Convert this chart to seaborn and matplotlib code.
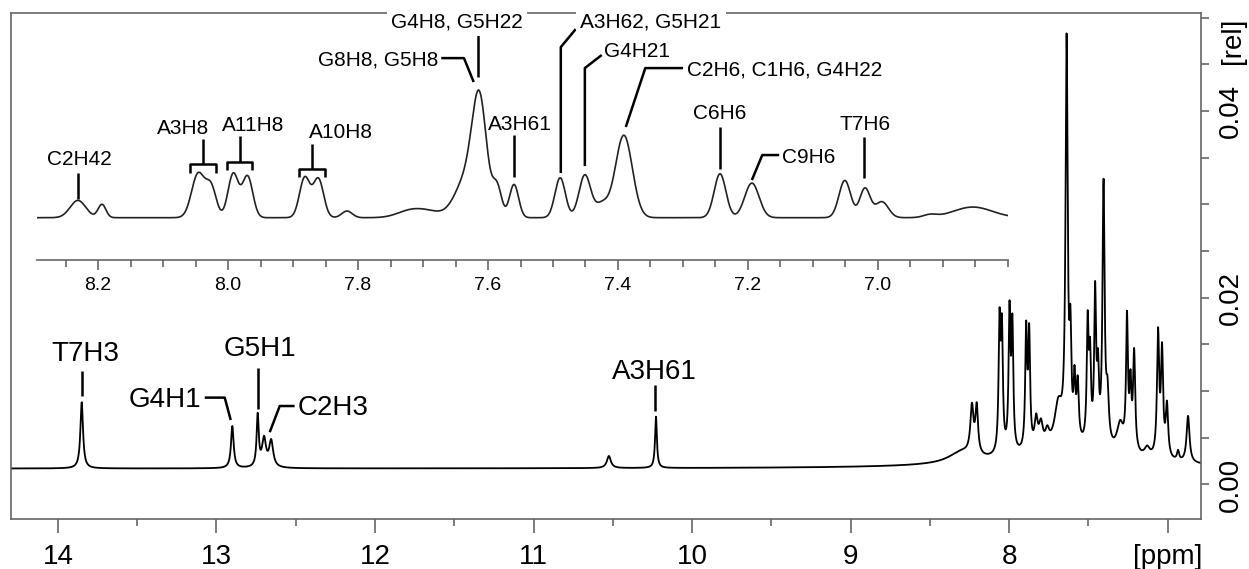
import numpy as np
import pandas as pd
import matplotlib
matplotlib.use("Agg")
import matplotlib.pyplot as plt
import seaborn as sns
from matplotlib.ticker import MultipleLocator, FixedLocator

# --- peak tables ---

# full spectrum: Lorentzian lines (ppm, height [rel], half width [ppm])
main_ppm = [13.85, 12.90, 12.74, 12.70, 12.655, 10.525, 10.228,
            7.60, 8.30, 8.235, 8.205, 8.061, 8.046, 7.998, 7.980, 7.893, 7.874,
            7.830, 7.800, 7.760, 7.690, 7.638, 7.614, 7.588, 7.568, 7.505, 7.490,
            7.458, 7.440, 7.405, 7.380, 7.300, 7.257, 7.235, 7.212, 7.130,
            7.061, 7.036, 7.005, 6.935, 6.872]
main_height = [0.0071, 0.0045, 0.0055, 0.0030, 0.0028, 0.0013, 0.0055,
               0.0018, 0.0012, 0.0050, 0.0050, 0.0135, 0.0125, 0.0145, 0.0130, 0.0125, 0.0120,
               0.0030, 0.0025, 0.0015, 0.0045, 0.0425, 0.0100, 0.0060, 0.0060, 0.0125, 0.0085,
               0.0158, 0.0070, 0.0278, 0.0050, 0.0030, 0.0138, 0.0065, 0.0105, 0.0010,
               0.0130, 0.0110, 0.0055, 0.0010, 0.0050]
main_width = [0.010, 0.010, 0.008, 0.015, 0.015, 0.015, 0.007,
              0.45, 0.100, 0.012, 0.010, 0.007, 0.007, 0.007, 0.007, 0.007, 0.007,
              0.012, 0.015, 0.015, 0.030, 0.008, 0.007, 0.007, 0.008, 0.007, 0.007,
              0.007, 0.007, 0.008, 0.010, 0.025, 0.007, 0.007, 0.008, 0.020,
              0.008, 0.008, 0.009, 0.008, 0.011]
main_baseline = 0.0017

# inset (8.3-6.8 ppm): Gaussian lines, arbitrary units (tallest = 1)
inset_ppm = [8.231, 8.194, 8.046, 8.026, 7.992, 7.970, 7.882, 7.861, 7.817,
             7.720, 7.690, 7.632, 7.613, 7.586, 7.560, 7.489, 7.451, 7.425,
             7.391, 7.243, 7.194, 7.051, 7.020, 6.994, 6.920, 6.854]
inset_height = [0.13, 0.10, 0.33, 0.22, 0.33, 0.31, 0.30, 0.29, 0.05,
                0.05, 0.04, 0.30, 0.78, 0.22, 0.25, 0.30, 0.32, 0.10,
                0.62, 0.33, 0.26, 0.28, 0.22, 0.12, 0.02, 0.08]
inset_sigma = [0.012, 0.006, 0.010, 0.008, 0.008, 0.008, 0.008, 0.008, 0.008,
               0.020, 0.020, 0.018, 0.011, 0.007, 0.007, 0.008, 0.009, 0.010,
               0.013, 0.009, 0.011, 0.009, 0.008, 0.010, 0.010, 0.030]
inset_baseline = -0.02

main_xlim = (14.296, 6.79)
inset_xlim = (8.294, 6.80)

# --- spectra ---
x_main = np.linspace(main_xlim[0], main_xlim[1], 9000)
y_main = np.full_like(x_main, main_baseline)
for c, h, w in zip(main_ppm, main_height, main_width):
    y_main += h * w**2 / ((x_main - c) ** 2 + w**2)

x_ins = np.linspace(inset_xlim[0], inset_xlim[1], 3000)
y_ins = np.full_like(x_ins, inset_baseline)
for c, h, s in zip(inset_ppm, inset_height, inset_sigma):
    y_ins += h * np.exp(-((x_ins - c) ** 2) / (2 * s**2))

df_main = pd.DataFrame({"ppm": x_main, "rel": y_main})
df_ins = pd.DataFrame({"ppm": x_ins, "rel": y_ins})

sns.set_style("ticks")
plt.rcParams["font.family"] = ["Liberation Sans", "DejaVu Sans"]
plt.rcParams["text.color"] = "black"
plt.rcParams["xtick.labelcolor"] = "black"
plt.rcParams["ytick.labelcolor"] = "black"

fig = plt.figure(figsize=(12.49, 5.69), dpi=100)
ax = fig.add_axes([0.0088, 0.0879, 0.9528, 0.8893])

sns.lineplot(data=df_main, x="ppm", y="rel", ax=ax, color="black", lw=1.3,
             sort=False, estimator=None)
ax.set_xlim(*main_xlim)
ax.set_ylim(-0.0037, 0.0505)
ax.set_xlabel("")
ax.set_ylabel("")
for s in ax.spines.values():
    s.set_color("#666666")
    s.set_linewidth(1.2)

ax.xaxis.set_major_locator(FixedLocator([14, 13, 12, 11, 10, 9, 8, 7]))
ax.set_xticklabels(["14", "13", "12", "11", "10", "9", "8", "[ppm]"], fontsize=20)
ax.xaxis.set_minor_locator(MultipleLocator(0.5))
ax.tick_params(axis="x", which="major", length=10, width=1.2, color="#666666", pad=8)
ax.tick_params(axis="x", which="minor", length=5, width=1.2, color="#666666")

ax.yaxis.tick_right()
ax.set_yticks([0.0, 0.02, 0.04])
ax.set_yticklabels(["0.00", "0.02", "0.04"], fontsize=20, rotation=90, va="center")
ax.yaxis.set_minor_locator(MultipleLocator(0.005))
ax.tick_params(axis="y", which="both", length=6, width=1.2, color="#666666", pad=6)
ax.text(1.027, 0.0475, "[rel]", transform=ax.get_yaxis_transform(), rotation=90,
        fontsize=20, ha="center", va="center")


def leader(a, xs, ys):
    a.plot(xs, ys, color="black", lw=1.8, solid_capstyle="butt", clip_on=False)


# main annotations
ax.text(13.83, 0.0140, "T7H3", fontsize=20, ha="center", va="center")
leader(ax, [13.849, 13.849], [0.0122, 0.0095])
ax.text(13.093, 0.0090, "G4H1", fontsize=20, ha="right", va="center")
leader(ax, [13.074, 12.948, 12.91], [0.0093, 0.0093, 0.0069])
ax.text(12.727, 0.01456, "G5H1", fontsize=20, ha="center", va="center")
leader(ax, [12.74, 12.74], [0.0125, 0.0081])
ax.text(12.488, 0.0082, "C2H3", fontsize=20, ha="left", va="center")
leader(ax, [12.507, 12.601, 12.664], [0.0084, 0.0084, 0.0056])
ax.text(10.238, 0.0120, "A3H61", fontsize=20, ha="center", va="center")
leader(ax, [10.232, 10.232], [0.0106, 0.0079])

# --- inset ---
ins = fig.add_axes([0.0296, 0.5431, 0.7774, 0.434])
ins.patch.set_visible(False)
sns.lineplot(data=df_ins, x="ppm", y="rel", ax=ins, color="#222222", lw=1.2,
             sort=False, estimator=None)
ins.set_xlim(*inset_xlim)
ins.set_ylim(-0.338, 1.519)
ins.set_xlabel("")
ins.set_ylabel("")
for side in ["left", "right", "top"]:
    ins.spines[side].set_visible(False)
ins.spines["bottom"].set_color("#666666")
ins.spines["bottom"].set_linewidth(1.2)
ins.set_yticks([])
ins.xaxis.set_major_locator(FixedLocator([8.2, 8.0, 7.8, 7.6, 7.4, 7.2, 7.0]))
ins.set_xticklabels(["8.2", "8.0", "7.8", "7.6", "7.4", "7.2", "7.0"], fontsize=14)
ins.xaxis.set_minor_locator(MultipleLocator(0.05))
ins.tick_params(axis="x", which="major", length=7, width=1.2, color="#666666", pad=5)
ins.tick_params(axis="x", which="minor", length=5, width=1.2, color="#666666")

fs = 15
white = dict(facecolor="white", edgecolor="none", pad=3)

ins.text(8.228, 0.421, "C2H42", fontsize=fs, ha="center", va="center")
leader(ins, [8.231, 8.231], [0.316, 0.12])

for lab, tx, ty, xc, xl, xr, ytop, ybr, yend in [
    ("A3H8", 8.069, 0.654, 8.038, 8.058, 8.018, 0.571, 0.383, 0.316),
    ("A11H8", 7.962, 0.677, 7.982, 8.002, 7.963, 0.594, 0.398, 0.338),
    ("A10H8", 7.826, 0.617, 7.871, 7.891, 7.851, 0.534, 0.346, 0.286),
]:
    ins.text(tx, ty, lab, fontsize=fs, ha="center", va="center")
    leader(ins, [xc, xc], [ytop, ybr])
    leader(ins, [xl, xl, xr, xr], [yend, ybr, ybr, yend])

ins.text(7.677, 1.165, "G8H8, G5H8", fontsize=fs, ha="right", va="center")
leader(ins, [7.672, 7.637, 7.622], [1.18, 1.18, 1.0])

ins.text(7.648, 1.451, "G4H8, G5H22", fontsize=fs, ha="center", va="center",
         bbox=white, clip_on=False, zorder=10)
leader(ins, [7.615, 7.615], [1.368, 1.038])

ins.text(7.551, 0.684, "A3H61", fontsize=fs, ha="center", va="center")
leader(ins, [7.56, 7.56], [0.60, 0.286])

ins.text(7.458, 1.451, "A3H62, G5H21", fontsize=fs, ha="left", va="center",
         bbox=white, clip_on=False, zorder=10)
leader(ins, [7.465, 7.488, 7.488], [1.398, 1.263, 0.316])

ins.text(7.422, 1.226, "G4H21", fontsize=fs, ha="left", va="center")
leader(ins, [7.425, 7.451, 7.451], [1.203, 1.105, 0.368])

ins.text(7.294, 1.09, "C2H6, C1H6, G4H22", fontsize=fs, ha="left", va="center")
leader(ins, [7.30, 7.358, 7.388], [1.105, 1.105, 0.662])

ins.text(7.243, 0.767, "C6H6", fontsize=fs, ha="center", va="center")
leader(ins, [7.243, 7.243], [0.662, 0.346])

ins.text(7.148, 0.436, "C9H6", fontsize=fs, ha="left", va="center")
leader(ins, [7.152, 7.178, 7.194], [0.451, 0.451, 0.263])

ins.text(7.02, 0.684, "T7H6", fontsize=fs, ha="center", va="center")
leader(ins, [7.022, 7.022], [0.586, 0.278])

fig.savefig("out.png", dpi=100)
